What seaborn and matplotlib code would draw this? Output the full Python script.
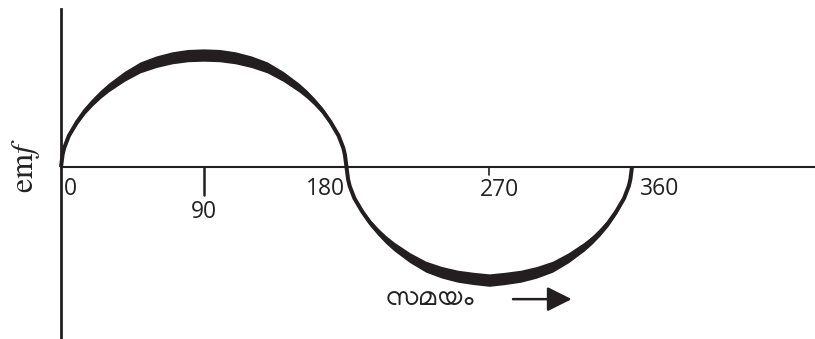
import matplotlib
matplotlib.use("Agg")
import os
import matplotlib.pyplot as plt
import pandas as pd
import seaborn as sns
from matplotlib import font_manager
from matplotlib.ft2font import FT2Font

# Phase angle (degrees) and the emf (crest = 1)
angle = [0, 1, 2, 5, 10, 15, 20, 25, 30, 40, 50, 60, 70, 80, 90,
         100, 110, 120, 130, 140, 150, 155, 160, 165, 170, 175, 178, 179, 180,
         181, 182, 185, 190, 195, 200, 205, 210, 220, 230, 240, 250, 260, 270,
         280, 290, 300, 310, 320, 330, 335, 340, 345, 350, 355, 358, 359, 360]
emf = [0.0, 0.11, 0.17, 0.28, 0.40, 0.50, 0.58, 0.65, 0.71, 0.81, 0.89, 0.94, 0.975, 0.995, 1.0,
       0.995, 0.975, 0.94, 0.89, 0.81, 0.71, 0.65, 0.58, 0.50, 0.40, 0.28, 0.17, 0.11, 0.0,
       -0.11, -0.17, -0.28, -0.40, -0.50, -0.58, -0.65, -0.71, -0.81, -0.89, -0.94, -0.975, -0.995, -1.01,
       -0.995, -0.975, -0.94, -0.89, -0.81, -0.71, -0.65, -0.58, -0.50, -0.40, -0.28, -0.17, -0.11, 0.0]

tick_values = [0, 90, 180, 270, 360]
tick_labels = ["0", "90", "180", "270", "360"]
time_label = "സമയം"

INK = "#231f20"


def malayalam_font(text):
    # pick an installed font with the glyphs of text, proper Malayalam faces first
    found = []
    for path in font_manager.findSystemFonts():
        try:
            cmap = FT2Font(path).get_charmap()
        except Exception:
            continue
        if all(ord(c) in cmap for c in text):
            found.append(path)
    preferred = ["Manjari-Regular", "NotoSansMalayalam[", "Gayathri-Regular", "Chilanka-Regular"]
    for name in preferred:
        for path in found:
            if os.path.basename(path).startswith(name):
                return font_manager.FontProperties(fname=path)
    if found:
        return font_manager.FontProperties(fname=found[0])
    return font_manager.FontProperties(family="Noto Sans")


sns.set_style("white")
plt.rcParams["font.family"] = ["Open Sans", "DejaVu Sans"]
plt.rcParams["mathtext.fontset"] = "stix"

df = pd.DataFrame({"angle": angle, "emf": emf})

fig = plt.figure(figsize=(8.15, 3.39), dpi=100)
ax = fig.add_axes([61 / 815, 0, 754 / 815, 330 / 339])

sns.lineplot(data=df, x="angle", y="emf", ax=ax, color=INK, linewidth=2.9,
             sort=False, clip_on=False, solid_joinstyle="round", solid_capstyle="butt")
# the stroke gets heavier towards the crests
ax.fill_between(df["angle"], df["emf"] * 0.945, df["emf"] * 1.055, color=INK, lw=0, clip_on=False)

ax.set_xlim(0, 475.4)
ax.set_ylim(-1.536, 1.411)

for side in ["top", "right"]:
    ax.spines[side].set_visible(False)
ax.spines["left"].set_color(INK)
ax.spines["left"].set_linewidth(2.0)
ax.spines["bottom"].set_position(("data", 0))
ax.spines["bottom"].set_color(INK)
ax.spines["bottom"].set_linewidth(1.5)
ax.set_xticks([])
ax.set_yticks([])
ax.set_xlabel("")
ax.set_ylabel("")

# tick labels placed around the curve the way the drawing has them
offsets = {"0": (2, -7, "left"), "90": (0, -24, "center"), "180": (-1, -7, "right"),
           "270": (-7, -8, "left"), "360": (6, -7, "left")}
for v, lab in zip(tick_values, tick_labels):
    dx, dy, ha = offsets[lab]
    ax.annotate(lab, xy=(v, 0), xytext=(dx, dy), textcoords="offset points",
                ha=ha, va="top", fontsize=16.5, color="#222222")
# the drawn tick marks, a long one at 90 and a short one at 270
ax.plot([tick_values[1], tick_values[1]], [0, -0.25], color=INK, lw=1.8)
ax.plot([tick_values[3], tick_values[3]], [0, -0.07], color=INK, lw=1.2)

fig.text(26 / 815, 1 - 166 / 339, r"$\mathrm{em}\mathit{f}$", rotation=90,
         ha="center", va="center", fontsize=23, color="#222222")

ax.annotate(time_label, xy=(233, -1.18), ha="center", va="center",
            fontproperties=malayalam_font(time_label), fontsize=20, color="#222222")
ax.annotate("", xy=(322, -1.18), xytext=(285, -1.18),
            arrowprops=dict(arrowstyle="-|>,head_length=1.5,head_width=0.75",
                            color=INK, lw=1.8, shrinkA=0, shrinkB=0))

fig.savefig("out.png", dpi=100)
